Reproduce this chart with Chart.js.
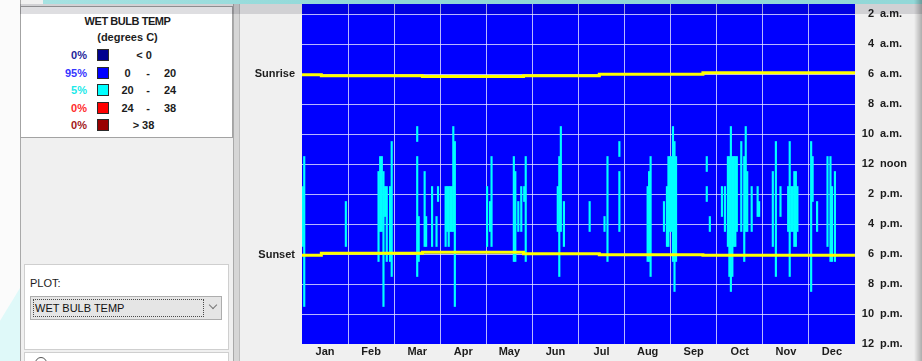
<!DOCTYPE html>
<html>
<head>
<meta charset="utf-8">
<title>Wet Bulb Temperature</title>
<script src="https://cdn.jsdelivr.net/npm/chart.js@4.4.1/dist/chart.umd.min.js"></script>
<style>
  html, body { margin: 0; padding: 0; width: 922px; height: 361px; overflow: hidden;
    background: #f0f0f0; font-family: "Liberation Sans", Arial, sans-serif; }
  .abs { position: absolute; box-sizing: border-box; }
  #desk { left: 0; top: 0; width: 20px; height: 361px; background: #fbfbfb; }
  #deskTint { left: 0; top: 288px; width: 20px; height: 73px; background: #dff9f9;
    clip-path: polygon(0 45%, 100% 0, 100% 100%, 0 100%); }
  #panel { left: 20px; top: 0; width: 214px; height: 361px; background: #f0f0f0;
    border-left: 1px solid #a9a9a9; border-right: 1px solid #a9a9a9; }
  #split { left: 234px; top: 0; width: 6px; height: 361px; background: #d6d6d6;
    border-right: 1px solid #bdbdbd; }
  #legendBox { left: 20px; top: 6px; width: 213px; height: 132px; background: #fff;
    border: 1px solid #a3a3a3; }
  .lg { position: absolute; font-weight: bold; font-size: 11px; line-height: 13px; color: #1c1c1c; white-space: nowrap; }
  #lgTitle { left: 0; width: 213px; top: 8px; text-align: center; letter-spacing: -0.45px; }
  #lgUnit { left: 0; width: 213px; top: 24px; text-align: center; }
  .sw { position: absolute; width: 12px; height: 12px; border: 1px solid #2a2a2a; box-sizing: border-box; }
  #plotBox { left: 24px; top: 264px; width: 205px; height: 86px; background: #fff; border: 1px solid #cfcfcf; }
  #plotLbl { left: 30px; top: 277px; font-size: 11px; line-height: 13px; color: #1c1c1c; }
  #combo { left: 30px; top: 296px; width: 192px; height: 24px; background: #e5e5e5; border: 1px solid #adadad; }
  #comboFocus { left: 33px; top: 299px; width: 171px; height: 18px; border: 1px dotted #4a4a4a;
    font-size: 11px; line-height: 16px; padding-left: 1px; color: #111; }
  #comboArrow { left: 210px; top: 302px; width: 6px; height: 6px; border-right: 1px solid #777;
    border-bottom: 1px solid #777; transform: rotate(45deg); }
  #nextBox { left: 24px; top: 352px; width: 205px; height: 20px; background: #fff; border: 1px solid #cfcfcf; }
  #radio { left: 35px; top: 357px; width: 12px; height: 12px; border: 1px solid #555; border-radius: 50%; background: #fff; }
  #rightEdge { left: 914px; top: 0; width: 8px; height: 361px;
    background: linear-gradient(to right, rgba(0,0,0,0), rgba(0,0,0,0.28)); }
  #chartWrap { left: 0; top: -16px; width: 922px; height: 377px; }
  #shade { left: 20px; top: 4px; width: 902px; height: 10px; background: rgba(0,0,20,0.13); pointer-events: none; }
  #titleBar { left: 43px; top: 0; width: 879px; height: 4px;
    background: linear-gradient(to right, #a6e2e2, #8fd7d7 40%, #93d8d8); }
</style>
</head>
<body>
<div id="desk" class="abs"></div>
<div id="deskTint" class="abs"></div>
<div id="panel" class="abs"></div>
<div id="split" class="abs"></div>
<div id="legendBox" class="abs">
  <div id="lgTitle" class="lg">WET BULB TEMP</div>
  <div id="lgUnit" class="lg">(degrees C)</div>
</div>
<div id="plotBox" class="abs"></div>
<div id="plotLbl" class="abs">PLOT:</div>
<div id="combo" class="abs"></div>
<div id="comboFocus" class="abs">WET BULB TEMP</div>
<div id="comboArrow" class="abs"></div>
<div id="nextBox" class="abs"></div>
<div id="radio" class="abs"></div>
<div id="chartWrap" class="abs"><canvas id="chart" width="922" height="377"></canvas></div>
<div id="shade" class="abs"></div>
<div id="titleBar" class="abs"></div>
<div id="rightEdge" class="abs"></div>

<script>
// ---- calendar and axis labels ----
const months = ["Jan", "Feb", "Mar", "Apr", "May", "Jun", "Jul", "Aug", "Sep", "Oct", "Nov", "Dec"];
const monthDays = [31, 28, 31, 30, 31, 30, 31, 31, 30, 31, 30, 31];
const hourTicks = [2, 4, 6, 8, 10, 12, 14, 16, 18, 20, 22, 24];
const hourLabels = ["2 a.m.", "4 a.m.", "6 a.m.", "8 a.m.", "10 a.m.", "12 noon",
                    "2 p.m.", "4 p.m.", "6 p.m.", "8 p.m.", "10 p.m.", "12 p.m."];
const sunLabels = ["Sunrise", "Sunset"];

// ---- temperature bins (degrees C) ----
const binLow = [null, 0, 20, 24, 38];
const binHigh = [0, 20, 24, 38, null];
const binColors = ["#00008f", "#0000ff", "#00ffff", "#ff0000", "#990000"];
const binTextColors = ["#1e1e9a", "#3535ff", "#1ce9e9", "#ff2b2b", "#a31818"];

// ---- hours in the 20-24 bin: [month, day, first hour, last hour] ----
const warmSpells = [
  [1, 1, 14, 17], [1, 2, 12, 21], [1, 30, 15, 17],
  [2, 19, 13, 18], [2, 20, 12, 16], [2, 21, 12, 16], [2, 22, 13, 21], [2, 23, 14, 15],
  [2, 24, 14, 18], [2, 26, 14, 18], [2, 27, 11, 19],
  [3, 16, 10, 10], [3, 16, 12, 19], [3, 17, 16, 18], [3, 21, 13, 17], [3, 22, 16, 17],
  [3, 26, 14, 17], [3, 29, 16, 17], [3, 30, 14, 14],
  [4, 4, 14, 17], [4, 5, 14, 16], [4, 6, 14, 17], [4, 7, 14, 16], [4, 8, 14, 16],
  [4, 9, 10, 16], [4, 10, 11, 21],
  [5, 1, 14, 17], [5, 3, 15, 16], [5, 4, 12, 17], [5, 19, 12, 18], [5, 20, 13, 18],
  [5, 22, 15, 16], [5, 24, 14, 16], [5, 26, 14, 14], [5, 27, 12, 18],
  [6, 17, 14, 16], [6, 18, 12, 19], [6, 19, 10, 16], [6, 21, 15, 17],
  [7, 8, 15, 16], [7, 18, 16, 16], [7, 20, 12, 18], [7, 28, 11, 11], [7, 28, 13, 16],
  [8, 16, 14, 18], [8, 17, 13, 18], [8, 18, 12, 19], [8, 27, 15, 16], [8, 29, 14, 17],
  [8, 30, 12, 17], [8, 31, 12, 16],
  [9, 1, 12, 16], [9, 2, 10, 18], [9, 3, 11, 20], [9, 4, 12, 18], [9, 24, 12, 12],
  [9, 24, 14, 14], [9, 26, 16, 16],
  [10, 4, 14, 15], [10, 6, 14, 16], [10, 8, 12, 17], [10, 9, 12, 19], [10, 10, 10, 20],
  [10, 11, 12, 19], [10, 12, 12, 17], [10, 13, 12, 17], [10, 14, 12, 16], [10, 17, 11, 16],
  [10, 19, 12, 18], [10, 20, 10, 16], [10, 21, 13, 16], [10, 24, 14, 16], [10, 28, 14, 15],
  [10, 29, 15, 15],
  [11, 7, 13, 17], [11, 9, 11, 19], [11, 12, 14, 15], [11, 17, 14, 16], [11, 18, 11, 19],
  [11, 19, 14, 16], [11, 20, 14, 16], [11, 21, 13, 17], [11, 22, 13, 17], [11, 23, 14, 16],
  [12, 2, 11, 20], [12, 3, 12, 14], [12, 6, 15, 16], [12, 13, 12, 17], [12, 15, 12, 18],
  [12, 16, 14, 18], [12, 18, 13, 18]
];

// ---- sunrise / sunset (hour of day), each held from the given date ----
const sunStepMonth = [1, 1, 3, 5, 7, 9, 11];
const sunStepDay = [1, 14, 20, 26, 15, 22, 27];
const sunriseHour = [5.98, 6.05, 6.11, 6.17, 6.11, 6.02, 5.91];
const sunsetHour = [18.09, 18.09, 17.95, 17.89, 17.98, 18.05, 18.08];

// position on the month axis (each month one unit wide)
function monthPos(m, d) { return (m - 1) + (d - 1) / monthDays[m - 1]; }

// ---- legend rows ----
const totalHours = monthDays.reduce((a, b) => a + b, 0) * 24;
const warmHours = warmSpells.reduce((a, s) => a + (s[3] - s[2] + 1), 0);
const warmShare = Math.round(100 * warmHours / totalHours);
const binShares = [0, 100 - warmShare, warmShare, 0, 0];

const box = document.getElementById("legendBox");
binLow.forEach((lo, i) => {
  const top = 42 + i * 17.5;
  const pct = document.createElement("div");
  pct.className = "lg";
  pct.style.cssText = `right:${213 - 68}px;top:${top}px;color:${binTextColors[i]}`;
  pct.textContent = binShares[i] + "%";
  box.appendChild(pct);
  const sw = document.createElement("div");
  sw.className = "sw";
  sw.style.cssText = `left:76px;top:${top}px;background:${binColors[i]}`;
  box.appendChild(sw);
  const put = (txt, cx) => {
    const t = document.createElement("div");
    t.className = "lg";
    t.style.cssText = `left:${cx - 20}px;width:40px;text-align:center;top:${top}px`;
    t.textContent = txt;
    box.appendChild(t);
  };
  if (lo === null) put("< " + binHigh[i], 123);
  else if (binHigh[i] === null) put("> " + lo, 122.5);
  else { put(String(lo), 106.5); put("-", 127); put(String(binHigh[i]), 149); }
});

// ---- chart ----
const cellBars = warmSpells.map(s => ({ x: monthPos(s[0], s[1]) + 0.5 / monthDays[s[0] - 1], y: [s[2] - 0.5, s[3] + 0.5] }));
const stepX = sunStepMonth.map((m, i) => monthPos(m, sunStepDay[i]));
const sunrisePts = stepX.map((x, i) => ({ x, y: sunriseHour[i] })).concat([{ x: 12, y: sunriseHour[sunriseHour.length - 1] }]);
const sunsetPts = stepX.map((x, i) => ({ x, y: sunsetHour[i] })).concat([{ x: 12, y: sunsetHour[sunsetHour.length - 1] }]);

const labelFont = { family: '"Liberation Sans", Arial, sans-serif', size: 11, weight: 'bold' };
const gridColor = 'rgba(228,228,255,0.8)';

// fixed axis boxes so the plot area lands where the layout padding puts it
function fixSize(size) {
  return s => {
    if (s.isHorizontal()) s.height = size; else s.width = size;
    s.paddingTop = 0; s.paddingBottom = 0; s.paddingLeft = 0; s.paddingRight = 0;
  };
}

const plotFill = {
  id: 'plotFill',
  beforeDraw(chart) {
    const a = chart.chartArea, c = chart.ctx;
    c.save();
    c.fillStyle = binColors[1];
    c.fillRect(a.left, a.top, a.right - a.left, a.bottom - a.top);
    c.restore();
  }
};

const hourAxisLabels = {
  id: 'hourAxisLabels',
  afterDraw(chart) {
    const ys = chart.scales.y, c = chart.ctx, right = chart.chartArea.right;
    c.save();
    c.font = 'bold 11px "Liberation Sans", Arial, sans-serif';
    c.fillStyle = '#1c1c1c';
    c.textBaseline = 'middle';
    hourTicks.forEach((h, i) => {
      const parts = hourLabels[i].split(' ');
      const y = ys.getPixelForValue(h);
      c.textAlign = 'right';
      c.fillText(parts[0], right + 19, y);
      c.textAlign = 'left';
      c.fillText(parts.slice(1).join(' '), right + 25, y);
    });
    c.restore();
  }
};

new Chart(document.getElementById('chart'), {
  type: 'bar',
  data: {
    datasets: [
      { type: 'line', label: 'Sunrise', data: sunrisePts, stepped: 'after', borderColor: '#ffff00',
        borderWidth: 3, pointRadius: 0, fill: false, xAxisID: 'x', yAxisID: 'y' },
      { type: 'line', label: 'Sunset', data: sunsetPts, stepped: 'after', borderColor: '#ffff00',
        borderWidth: 3, pointRadius: 0, fill: false, xAxisID: 'x', yAxisID: 'y' },
      { type: 'bar', label: '20 - 24', data: cellBars, backgroundColor: binColors[2], borderWidth: 0,
        barThickness: 1.5, grouped: false, xAxisID: 'x', yAxisID: 'y' }
    ]
  },
  options: {
    responsive: false,
    animation: false,
    devicePixelRatio: 1,
    layout: { padding: { left: 242, right: 67, top: 0, bottom: 0 } },
    plugins: { legend: { display: false }, tooltip: { enabled: false } },
    scales: {
      x: {
        type: 'linear', position: 'bottom', min: 0, max: 12, offset: false, z: 1,
        grid: { color: gridColor, lineWidth: 1, drawTicks: false, offset: false },
        border: { display: false },
        ticks: { display: false },
        afterBuildTicks: s => { s.ticks = months.slice(1).map((m, i) => ({ value: i + 1 })); },
        afterFit: fixSize(0)
      },
      xMonths: {
        type: 'linear', position: 'bottom', min: 0, max: 12, offset: false,
        grid: { display: false, drawTicks: false },
        border: { display: false },
        ticks: { font: labelFont, color: '#1c1c1c', padding: 1, autoSkip: false, maxRotation: 0,
                 callback: (v, i) => months[i] },
        afterBuildTicks: s => { s.ticks = months.map((m, i) => ({ value: i + 0.5 })); },
        afterFit: fixSize(17)
      },
      y: {
        type: 'linear', position: 'left', min: 0, max: 24, reverse: true, z: 1,
        grid: { color: gridColor, lineWidth: 1, drawTicks: false },
        border: { display: false },
        ticks: { display: false },
        afterBuildTicks: s => { s.ticks = hourTicks.slice(0, -1).map(h => ({ value: h })); },
        afterFit: fixSize(0)
      },
      ySun: {
        type: 'linear', position: 'left', min: 0, max: 24, reverse: true,
        grid: { display: false, drawTicks: false },
        border: { display: false },
        ticks: { font: labelFont, color: '#1c1c1c', padding: 7, autoSkip: false,
                 callback: (v, i) => sunLabels[i] },
        afterBuildTicks: s => { s.ticks = [{ value: sunriseHour[0] }, { value: sunsetHour[0] }]; },
        afterFit: fixSize(60)
      }
    }
  },
  plugins: [plotFill, hourAxisLabels]
});
</script>
</body>
</html>
